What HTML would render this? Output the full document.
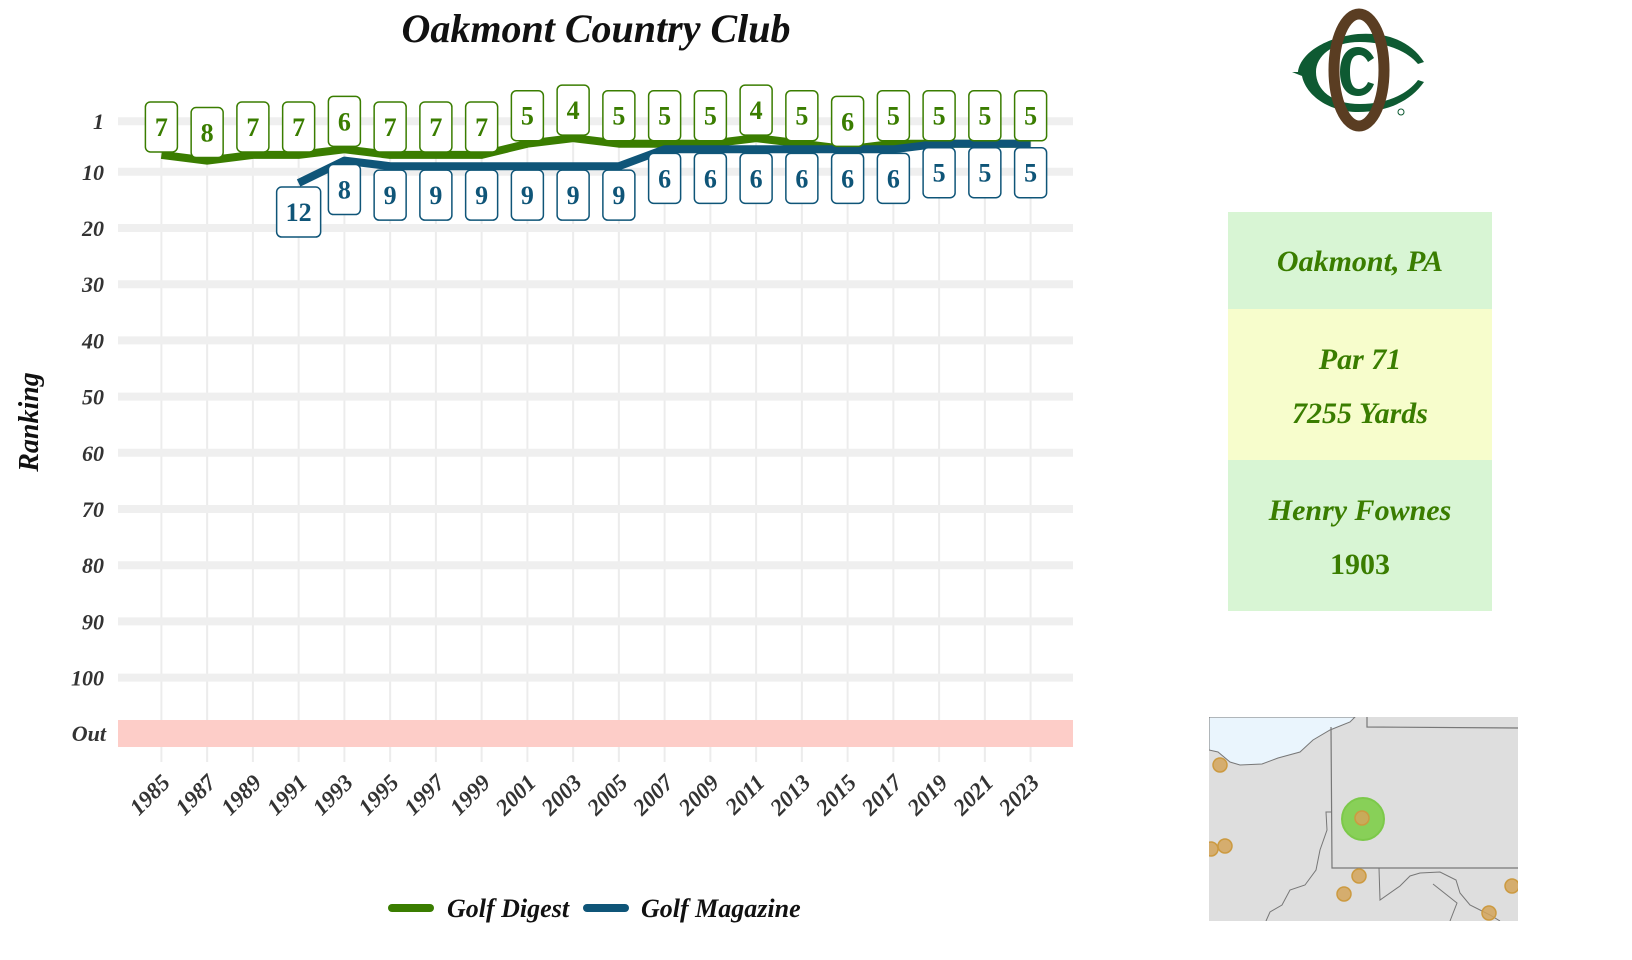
<!DOCTYPE html>
<html><head><meta charset="utf-8">
<style>
html,body{margin:0;padding:0;background:#fff;}
svg{display:block;}
text{font-family:"Liberation Serif",serif;}
</style></head>
<body>
<svg id="chart" width="1632" height="960" viewBox="0 0 1632 960" xmlns="http://www.w3.org/2000/svg">
  <text x="596" y="42" text-anchor="middle" font-size="40" font-style="italic" font-weight="bold" fill="#111">Oakmont Country Club</text>
  <g id="grid"></g>
  <rect x="118" y="720" width="955" height="27" fill="#fdcdc8"/>
  <g id="yticks"></g>
  <g id="xticks"></g>
  <text transform="translate(38,422) rotate(-90)" text-anchor="middle" font-size="28" font-style="italic" font-weight="bold" fill="#111">Ranking</text>
  <g id="series"></g>
  <g id="labels"></g>

  <g>
    <g>
      <line x1="392" y1="908" x2="430" y2="908" stroke="#3a7d00" stroke-width="8" stroke-linecap="round"/>
      <text x="447" y="917" font-size="26" font-style="italic" font-weight="bold" fill="#111">Golf Digest</text>
    </g>
    <g>
      <line x1="587" y1="908" x2="625" y2="908" stroke="#0f5578" stroke-width="8" stroke-linecap="round"/>
      <text x="641" y="917" font-size="26" font-style="italic" font-weight="bold" fill="#111">Golf Magazine</text>
    </g>
  </g>

  <g>
    <path d="M1424 62 C1410 40 1385 32 1358 34 C1322 38 1300 55 1298 72 L1292 72 L1302 76 C1306 96 1330 112 1358 112 C1386 112 1410 102 1424 82 L1418 80 C1406 96 1384 104 1360 104 C1332 104 1316 90 1316 72 C1316 56 1332 42 1360 42 C1384 42 1406 50 1418 64 Z" fill="#0e5a32"/>
    <ellipse cx="1359" cy="70" rx="25" ry="56" fill="none" stroke="#5a3d22" stroke-width="11"/>
    <path d="M1374 58 C1370 50 1364 47 1358 47 C1346 47 1340 58 1340 72 C1340 86 1346 96 1358 96 C1365 96 1371 92 1374 84 L1368 82 C1366 87 1362 89 1359 89 C1352 89 1350 81 1350 72 C1350 62 1352 55 1359 55 C1363 55 1366 58 1368 62 Z" fill="#0e5a32"/>
    <circle cx="1401" cy="112" r="3" fill="none" stroke="#0e5a32" stroke-width="1"/>
  </g>

  <g>
    <rect x="1228" y="212" width="264" height="97" fill="#d8f5d4"/>
    <rect x="1228" y="309" width="264" height="151" fill="#f7fdcc"/>
    <rect x="1228" y="460" width="264" height="151" fill="#d8f5d4"/>
    <g font-size="30" font-weight="bold" fill="#3a7d00" text-anchor="middle">
      <text x="1360" y="271" font-style="italic">Oakmont, PA</text>
      <text x="1360" y="369" font-style="italic">Par 71</text>
      <text x="1360" y="423" font-style="italic">7255 Yards</text>
      <text x="1360" y="520" font-style="italic">Henry Fownes</text>
      <text x="1360" y="574">1903</text>
    </g>
  </g>

  <g>
    <clipPath id="mapclip"><rect x="1209" y="717" width="309" height="204"/></clipPath>
    <g clip-path="url(#mapclip)">
      <rect x="1209" y="717" width="309" height="204" fill="#dedede"/>
      <path d="M1209 717 L1355 717 L1350 722 L1330 730 L1313 740 L1300 752 L1278 758 L1262 764 L1240 765 L1230 762 L1218 752 L1209 750 Z" fill="#eaf5fd" stroke="#777" stroke-width="1"/>
      <path d="M1331 727 L1332 868 L1518 868" fill="none" stroke="#777" stroke-width="1.2"/>
      <path d="M1367 717 L1367 727 L1518 728" fill="none" stroke="#777" stroke-width="1.2"/>
      <path d="M1331 812 L1326 812 L1327 830 L1320 850 L1316 870 L1305 885 L1290 890 L1282 905 L1270 912 L1266 921" fill="none" stroke="#777" stroke-width="1"/>
      <path d="M1379 868 L1380 900 L1400 886 L1410 876 L1420 873 L1440 872 L1456 880 L1460 893 L1470 905 L1490 915 L1500 921" fill="none" stroke="#777" stroke-width="1"/>
      <path d="M1433 884 L1457 903 L1450 921" fill="none" stroke="#777" stroke-width="1"/>
      <circle cx="1363" cy="819" r="21" fill="#88d058" stroke="#7cc94a" stroke-width="2"/>
      <g fill="#d3a45a" fill-opacity="0.85" stroke="#cc9a40" stroke-width="1.5">
        <circle cx="1362" cy="818" r="7"/>
        <circle cx="1220" cy="765" r="7"/>
        <circle cx="1225" cy="846" r="7"/>
        <circle cx="1211" cy="849" r="7"/>
        <circle cx="1359" cy="876" r="7"/>
        <circle cx="1344" cy="894" r="7"/>
        <circle cx="1512" cy="886" r="7"/>
        <circle cx="1489" cy="913" r="7"/>
      </g>
    </g>
  </g>
</svg>
<script>
const years = [1985,1987,1989,1991,1993,1995,1997,1999,2001,2003,2005,2007,2009,2011,2013,2015,2017,2019,2021,2023];
const digestRanks = [7,8,7,7,6,7,7,7,5,4,5,5,5,4,5,6,5,5,5,5];
const magazineYears = [1991,1993,1995,1997,1999,2001,2003,2005,2007,2009,2011,2013,2015,2017,2019,2021,2023];
const magazineRanks = [12,8,9,9,9,9,9,9,6,6,6,6,6,6,5,5,5];
const yTickValues = [1,10,20,30,40,50,60,70,80,90,100];
const yTickLabels = ["1","10","20","30","40","50","60","70","80","90","100"];

const NS = "http://www.w3.org/2000/svg";
function xScale(yr){ return 161.4 + (yr - 1985) * (1030.6 - 161.4) / (2023 - 1985); }
function yScale(r){ return 171.8 + (r - 10) * 5.62; }
function mk(tag, attrs, parent){ const e = document.createElementNS(NS, tag); for (const k in attrs) e.setAttribute(k, attrs[k]); parent.appendChild(e); return e; }

const grid = document.getElementById('grid');
years.forEach(yr => {
  const l = mk('line', {x1: xScale(yr), x2: xScale(yr), y1: 133, y2: 762, stroke: '#ececec', 'stroke-width': 2}, grid);
  
  
});
yTickValues.forEach(v => {
  const l = mk('line', {x1: 118, x2: 1073, y1: yScale(v), y2: yScale(v), stroke: '#efefef', 'stroke-width': 8}, grid);
  
  
});

const yt = document.getElementById('yticks');
yTickValues.forEach((v, i) => {
  const t = mk('text', {x: 104, y: yScale(v) + 8, 'text-anchor': 'end', 'font-size': 22, 'font-style': 'italic', 'font-weight': 'bold', fill: '#333'}, yt);
  
  
  t.textContent = yTickLabels[i];
});
const outT = mk('text', {x: 106, y: 741, 'text-anchor': 'end', 'font-size': 22, 'font-style': 'italic', 'font-weight': 'bold', fill: '#333'}, yt);


outT.textContent = 'Out';

const xt = document.getElementById('xticks');
years.forEach(yr => {
  const x = xScale(yr) + 10, y = 784;
  const t = mk('text', {x: x, y: y, 'text-anchor': 'end', 'font-size': 23, 'font-style': 'italic', 'font-weight': 'bold', fill: '#333', transform: 'rotate(-45 ' + x + ' ' + y + ')'}, xt);
  
  
  t.textContent = String(yr);
});

const series = document.getElementById('series');
function linePath(xs, ys){ return xs.map((yr, i) => (i ? 'L' : 'M') + xScale(yr).toFixed(1) + ' ' + yScale(ys[i]).toFixed(1)).join(' '); }
const pd = mk('path', {d: linePath(years, digestRanks), fill: 'none', stroke: '#3a7d00', 'stroke-width': 8, 'stroke-linejoin': 'round'}, series);


const pm = mk('path', {d: linePath(magazineYears, magazineRanks), fill: 'none', stroke: '#0f5578', 'stroke-width': 8, 'stroke-linejoin': 'round'}, series);



const labels = document.getElementById('labels');
function addLabel(yr, r, color, offset, name){
  const cx = xScale(yr), cy = yScale(r) + offset;
  const w = String(r).length > 1 ? 44 : 32, h = 50;
  const g = mk('g', {}, labels);
  
  
  mk('rect', {x: cx - w/2, y: cy - h/2, width: w, height: h, rx: 5, fill: '#fff', stroke: color, 'stroke-width': 1.5}, g);
  const t = mk('text', {x: cx, y: cy + 9, 'text-anchor': 'middle', 'font-size': 26, 'font-weight': 'bold', fill: color}, g);
  t.textContent = String(r);
}
years.forEach((yr, i) => addLabel(yr, digestRanks[i], '#3a7d00', -28, 'golf-digest-label'));
magazineYears.forEach((yr, i) => addLabel(yr, magazineRanks[i], '#0f5578', 29, 'golf-magazine-label'));
</script>
</body></html>
